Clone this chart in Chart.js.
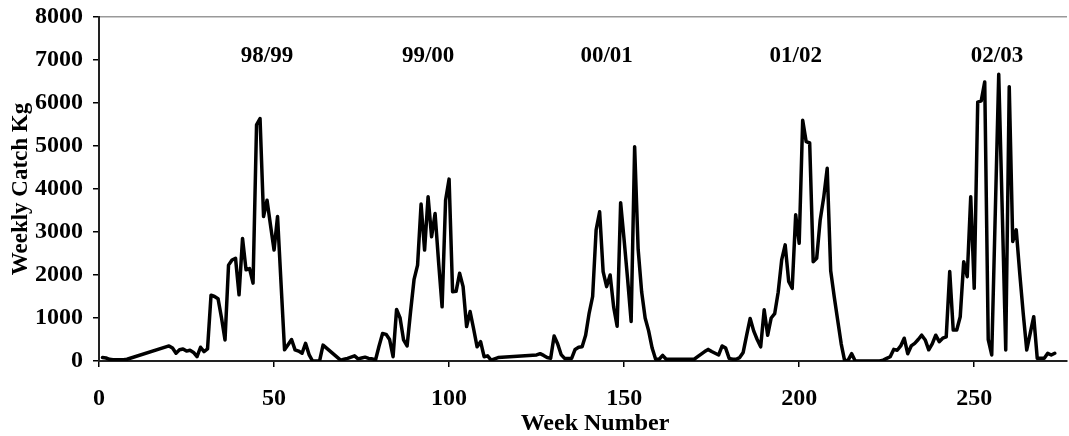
<!DOCTYPE html>
<html><head><meta charset="utf-8">
<script src="https://cdn.jsdelivr.net/npm/chart.js@4/dist/chart.umd.min.js"></script>
<style>html,body{margin:0;padding:0;background:#fff}#c{display:block}</style>
</head><body>
<canvas id="c" width="1069" height="436"></canvas>
<script>
const weeks = [
  1,2,3,4,5,6,7,8,20,21,
  22,23,24,25,26,27,28,29,30,31,
  32,33,34,35,36,37,38,39,40,41,
  42,43,44,45,46,47,48,49,50,51,
  52,53,54,55,56,57,58,59,60,61,
  62,63,64,69,70,71,72,73,74,75,
  76,77,78,79,80,81,82,83,84,85,
  86,87,88,89,90,91,92,93,94,95,
  96,97,98,99,100,101,102,103,104,105,
  106,107,108,109,110,111,112,113,114,125,
  126,127,128,129,130,131,132,133,134,135,
  136,137,138,139,140,141,142,143,144,145,
  146,147,148,149,150,151,152,153,154,155,
  156,157,158,159,160,161,162,170,171,172,
  173,174,175,176,177,178,179,180,181,182,
  183,184,185,186,187,188,189,190,191,192,
  193,194,195,196,197,198,199,200,201,202,
  203,204,205,206,207,208,209,210,211,212,
  213,214,215,216,223,224,225,226,227,228,
  229,230,231,232,233,234,235,236,237,238,
  239,240,241,242,243,244,245,246,247,248,
  249,250,251,252,253,254,255,256,257,258,
  259,260,261,262,263,264,265,266,267,268,
  269,270,271,272,273
];
const catchKg = [
  80,70,40,30,30,30,30,40,350,300,
  180,260,280,230,250,200,100,320,220,280,
  1530,1500,1450,1000,490,2230,2350,2390,1540,2850,
  2120,2150,1810,5490,5640,3360,3740,3150,2580,3360,
  1800,260,380,500,260,230,180,410,150,0,
  0,0,370,20,40,60,90,120,50,70,
  90,60,50,30,350,640,620,500,100,1200,
  1000,490,350,1150,1900,2230,3650,2580,3820,2890,
  3430,2300,1260,3740,4230,1610,1620,2040,1730,800,
  1150,750,330,450,100,120,20,50,80,140,
  170,130,80,60,580,400,150,60,60,60,
  270,320,330,600,1110,1500,3050,3470,2080,1730,
  2000,1260,810,3680,2810,1900,920,4980,2600,1610,
  1000,700,300,40,40,130,40,40,100,160,
  220,270,220,180,140,350,300,60,40,40,
  80,200,600,990,700,500,330,1190,600,1000,
  1100,1600,2350,2700,1850,1690,3400,2740,5600,5100,
  5070,2310,2390,3280,3800,4480,2100,1500,950,400,
  0,20,170,0,0,20,60,100,270,250,
  350,530,170,350,410,500,600,490,260,400,
  600,450,530,560,2080,720,720,1030,2310,1960,
  3820,1690,6020,6050,6490,500,140,3400,6670,3500,
  256,6380,2780,3050,2040,1100,256,650,1030,62,
  62,62,178,140,180
];
const xTickValues = [0, 50, 100, 150, 200, 250];
const yTickValues = [0, 1000, 2000, 3000, 4000, 5000, 6000, 7000, 8000];
const seasonLabels = ['98/99', '99/00', '00/01', '01/02', '02/03'];
const seasonWeeks = [48, 94, 145, 199, 256.5];
const seasonLevel = 7080;

const FONT = '"Liberation Serif", "Times New Roman", serif';

const points = weeks.map((w, i) => ({ x: w, y: catchKg[i] }));

const seasonPlugin = {
  id: 'seasonLabels',
  afterDatasetsDraw(chart) {
    const ctx = chart.ctx, xs = chart.scales.x, ys = chart.scales.y;
    ctx.save();
    ctx.font = 'bold 23px ' + FONT;
    ctx.fillStyle = '#000';
    ctx.textAlign = 'center';
    ctx.textBaseline = 'middle';
    seasonLabels.forEach((t, i) => {
      ctx.fillText(t, xs.getPixelForValue(seasonWeeks[i]), ys.getPixelForValue(seasonLevel));
    });
    ctx.restore();
  }
};

new Chart(document.getElementById('c'), {
  type: 'line',
  data: {
    datasets: [{
      data: points,
      borderColor: '#000',
      borderWidth: 3.5,
      pointRadius: 0,
      tension: 0,
      fill: false,
      borderJoinStyle: 'round',
      borderCapStyle: 'round'
    }]
  },
  options: {
    responsive: false,
    animation: false,
    devicePixelRatio: 1,
    layout: { padding: { top: 17, right: 2, left: 0, bottom: 0 } },
    plugins: { legend: { display: false }, tooltip: { enabled: false } },
    scales: {
      x: {
        type: 'linear', position: 'bottom', min: 0, max: 276.5,
        afterBuildTicks(s) { s.ticks = xTickValues.map(v => ({ value: v })); },
        afterFit(s) { s.height = 75; s.paddingLeft = 0; s.paddingRight = 0; },
        ticks: { includeBounds: false, padding: 18, color: '#000',
          callback: v => String(v),
          font: { family: FONT, size: 24, weight: 'bold', lineHeight: 1.15 } },
        grid: { drawOnChartArea: false, drawTicks: true, tickLength: 6, color: '#000', lineWidth: 1.5 },
        border: { display: true, color: '#222', width: 2 },
        title: { display: true, text: '\u2003Week Number', color: '#000',
          font: { family: FONT, size: 24, weight: 'bold', lineHeight: 1.0 },
          padding: { top: 0, bottom: 0 } }
      },
      y: {
        type: 'linear', min: 0, max: 8000,
        afterBuildTicks(s) { s.ticks = yTickValues.map(v => ({ value: v })); },
        afterFit(s) { s.width = 99; s.paddingTop = 0; s.paddingBottom = 0; },
        ticks: { padding: 10, color: '#000',
          callback: v => String(v),
          font: { family: FONT, size: 24, weight: 'bold' } },
        grid: { drawOnChartArea: true, drawTicks: true, tickLength: 6,
          color: c => (c.tick && c.tick.value === 8000) ? '#999' : 'rgba(0,0,0,0)',
          tickColor: '#000', lineWidth: 1.5 },
        border: { display: true, color: '#222', width: 2 },
        title: { display: true, text: 'Weekly Catch Kg', color: '#000',
          font: { family: FONT, size: 23, weight: 'bold', lineHeight: 1.2 },
          padding: { top: 7, bottom: 0 } }
      }
    }
  },
  plugins: [seasonPlugin]
});
</script>
</body></html>
